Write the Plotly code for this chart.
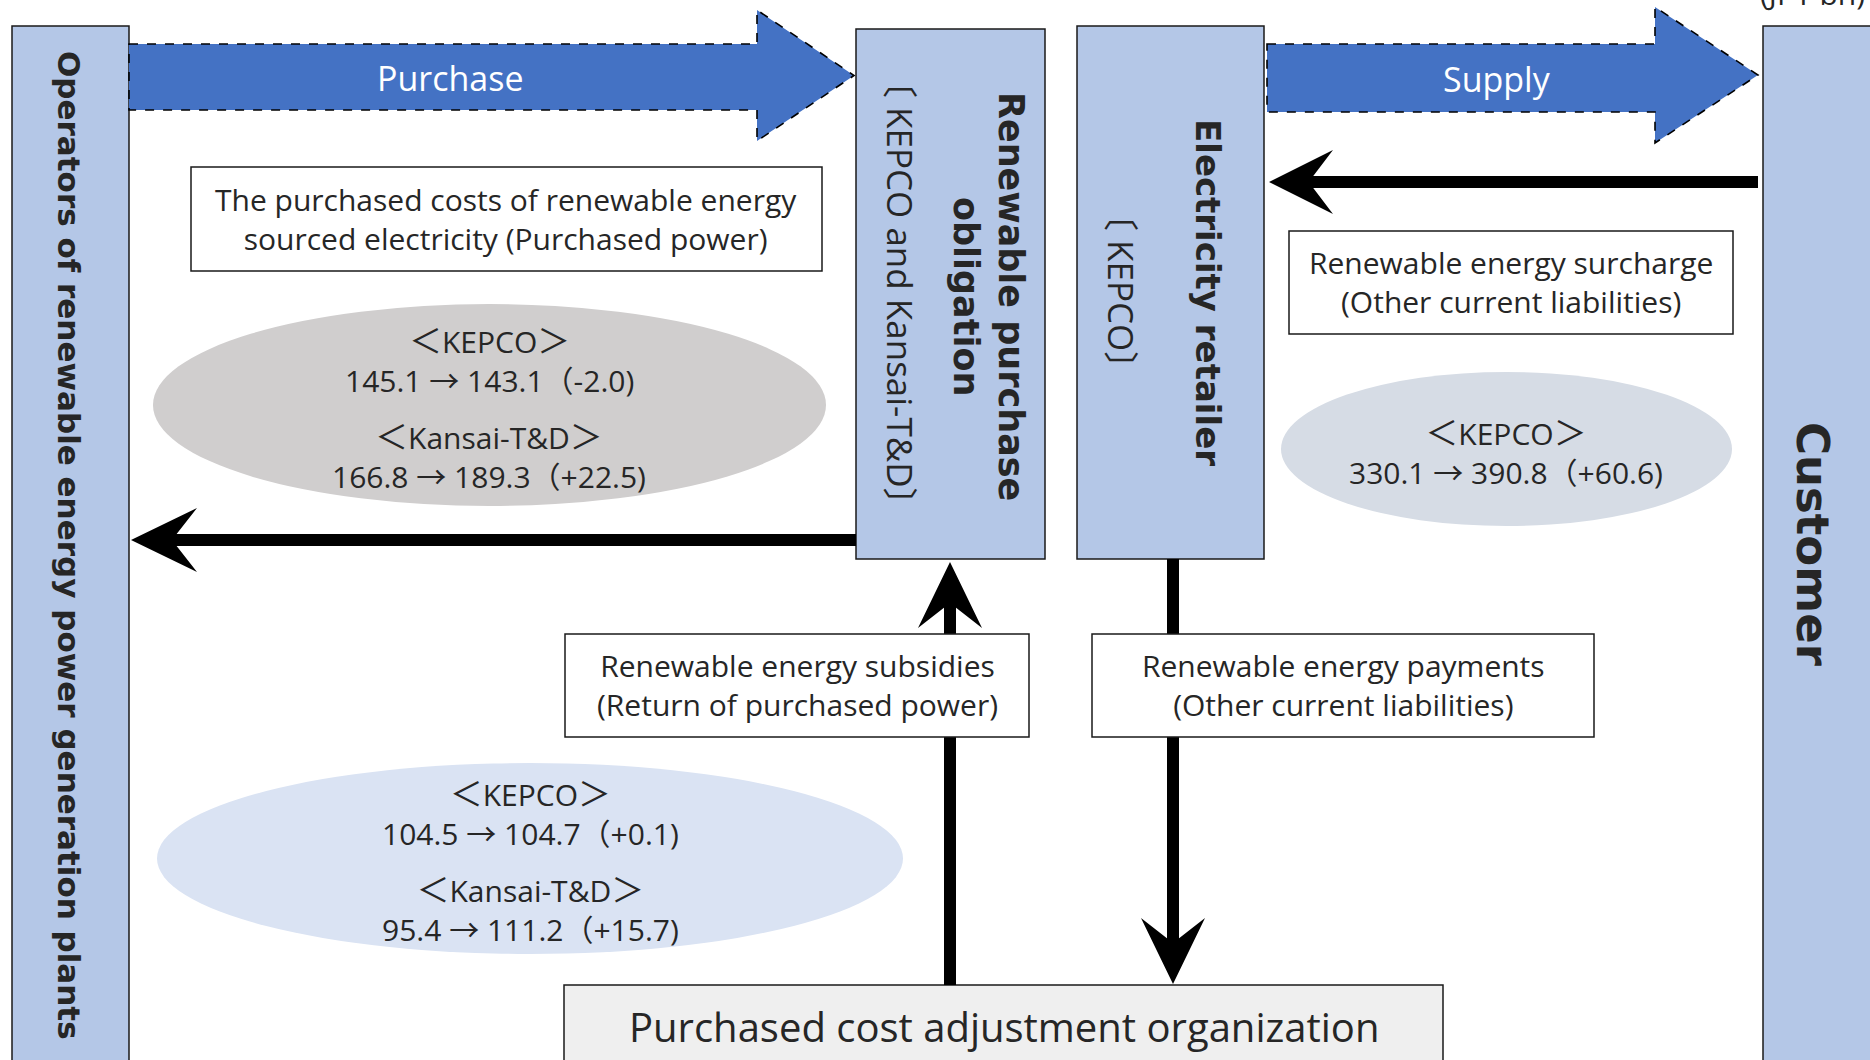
import plotly.graph_objects as go

# ---------------- data (texts & values) ----------------
unit_label = "(JPY bn)"
entity_labels = {
    "operators": "Operators of renewable energy power generation plants",
    "obligation": "Renewable purchase<br>obligation",
    "obligation_sub": "〔 KEPCO and Kansai-T&D〕",
    "retailer": "Electricity retailer",
    "retailer_sub": "〔 KEPCO〕",
    "customer": "Customer",
    "organization": "Purchased cost adjustment organization",
}
flow_labels = ["Purchase", "Supply"]
item_labels = {
    "purchased": "The purchased costs of renewable energy<br>sourced electricity (Purchased power)",
    "surcharge": "Renewable energy surcharge<br>(Other current liabilities)",
    "subsidies": "Renewable energy subsidies<br>(Return of purchased power)",
    "payments": "Renewable energy payments<br>(Other current liabilities)",
}
companies = ["KEPCO", "Kansai-T&D"]
purchased_prev = [145.1, 166.8]
purchased_curr = [143.1, 189.3]
purchased_chg = ["-2.0", "+22.5"]
surcharge_prev = [330.1]
surcharge_curr = [390.8]
surcharge_chg = ["+60.6"]
subsidies_prev = [104.5, 95.4]
subsidies_curr = [104.7, 111.2]
subsidies_chg = ["+0.1", "+15.7"]

# ---------------- styles ----------------
BOX_FILL = "#B4C7E7"
ARROW_FILL = "#4472C4"
TXT = "#262626"
EDGE = "#1a1a1a"
FONT = "Open Sans, Noto Sans CJK JP"
BOLD = "DejaVu Sans"

fig = go.Figure()
fig.add_trace(go.Scatter(x=[0, 1870], y=[0, 1060], mode="markers",
                         marker=dict(opacity=0), hoverinfo="skip"))

shapes = []
ann = []


def rect(x0, y0, x1, y1, fill, lw=1.5):
    shapes.append(dict(type="rect", x0=x0, y0=y0, x1=x1, y1=y1,
                       fillcolor=fill, line=dict(color=EDGE, width=lw)))


def ellipse(x0, y0, x1, y1, fill):
    shapes.append(dict(type="circle", x0=x0, y0=y0, x1=x1, y1=y1,
                       fillcolor=fill, line=dict(width=0)))


def text(x, y, s, size, color=TXT, family=FONT, angle=0, bold=False, yshift=0):
    if bold:
        s = "<b>" + s + "</b>"
    ann.append(dict(x=x, y=y, text=s, showarrow=False, textangle=angle,
                    xanchor="center", yanchor="middle", yshift=yshift,
                    font=dict(size=size, color=color, family=family)))


def block_arrow(x0, xh, xt, yb0, yb1, yh0, yh1):
    ym = (yh0 + yh1) / 2
    p = (f"M{x0},{yb0} L{xh},{yb0} L{xh},{yh0} L{xt},{ym} L{xh},{yh1} "
         f"L{xh},{yb1} L{x0},{yb1} Z")
    shapes.append(dict(type="path", path=p, fillcolor=ARROW_FILL,
                       line=dict(color="black", width=1.6, dash="dash")))


def head(tx, ty, direction, L=66, Wd=32, notch=0.62):
    # stealth style arrow head
    if direction == "left":
        pts = [(tx, ty), (tx + L, ty - Wd), (tx + L * notch, ty), (tx + L, ty + Wd)]
    elif direction == "right":
        pts = [(tx, ty), (tx - L, ty - Wd), (tx - L * notch, ty), (tx - L, ty + Wd)]
    elif direction == "up":
        pts = [(tx, ty), (tx - Wd, ty + L), (tx, ty + L * notch), (tx + Wd, ty + L)]
    else:
        pts = [(tx, ty), (tx - Wd, ty - L), (tx, ty - L * notch), (tx + Wd, ty - L)]
    p = "M" + " L".join(f"{a},{b}" for a, b in pts) + " Z"
    shapes.append(dict(type="path", path=p, fillcolor="black", line=dict(width=0)))


def thick_line(x0, y0, x1, y1, w=12):
    shapes.append(dict(type="line", x0=x0, y0=y0, x1=x1, y1=y1,
                       line=dict(color="black", width=w)))


# ---------------- main boxes ----------------
rect(12, 26, 129, 1075, BOX_FILL)
rect(856, 29, 1045, 559, BOX_FILL)
rect(1077, 26, 1264, 559, BOX_FILL)
rect(1763, 26, 1885, 1075, BOX_FILL)
rect(564, 985, 1443, 1075, "#EFEFEF")

# block arrows
block_arrow(129, 757, 854, 44, 110, 10, 141)
block_arrow(1267, 1655, 1758, 44, 112, 7, 143)

# ellipses
ellipse(153, 304, 826, 506, "#D0CECE")
ellipse(1281, 372, 1732, 526, "#D6DCE5")
ellipse(157, 763, 903, 954, "#DAE3F3")

# thin arrows
thick_line(856, 540, 170, 540)
head(131, 540, "left")
thick_line(1758, 182, 1300, 182)
head(1269, 182, "left", L=64)
thick_line(1173, 559, 1173, 950)
head(1173, 984, "down")
thick_line(950, 985, 950, 600)
head(950, 562, "up")

# label boxes
rect(191, 167, 822, 271, "white")
rect(1289, 231, 1733, 334, "white")
rect(565, 634, 1029, 737, "white")
rect(1092, 634, 1594, 737, "white")

# ---------------- texts ----------------
text(1812, 2, unit_label, 30, yshift=9)
text(450, 78, flow_labels[0], 34, color="white")
text(1497, 79, flow_labels[1], 34, color="white")

text(69, 545, entity_labels["operators"], 31, family=BOLD, angle=90, bold=True)
text(988, 296, entity_labels["obligation"], 35, family=BOLD, angle=90, bold=True)
text(901, 293, entity_labels["obligation_sub"], 35, angle=90)
text(1208, 292, entity_labels["retailer"], 34, family=BOLD, angle=90, bold=True)
text(1122, 291, entity_labels["retailer_sub"], 35, angle=90)
text(1813, 544, entity_labels["customer"], 45, family=BOLD, angle=90, bold=True)
text(1004, 1026, entity_labels["organization"], 40)

text(506, 219, item_labels["purchased"], 30)
text(1511, 282, item_labels["surcharge"], 30)
text(797, 685, item_labels["subsidies"], 30)
text(1343, 685, item_labels["payments"], 30)


def block(name, prev, curr, chg):
    tag = ('<span style="font-size:33px">＜</span>' + name +
           '<span style="font-size:33px">＞</span>')
    return tag + "<br>" + f"{prev:.1f} → {curr:.1f}（{chg})"


# purchased power (gray ellipse)
text(489, 359, block(companies[0], purchased_prev[0], purchased_curr[0], purchased_chg[0]), 30)
text(489, 455, block(companies[1], purchased_prev[1], purchased_curr[1], purchased_chg[1]), 30)

# surcharge (right ellipse)
text(1506, 451, block(companies[0], surcharge_prev[0], surcharge_curr[0], surcharge_chg[0]), 30)

# subsidies (blue ellipse)
text(530, 812, block(companies[0], subsidies_prev[0], subsidies_curr[0], subsidies_chg[0]), 30)
text(530, 908, block(companies[1], subsidies_prev[1], subsidies_curr[1], subsidies_chg[1]), 30)

fig.update_layout(
    width=1870, height=1060,
    margin=dict(l=0, r=0, t=0, b=0),
    paper_bgcolor="white", plot_bgcolor="white",
    xaxis=dict(range=[0, 1870], visible=False, fixedrange=True),
    yaxis=dict(range=[1060, 0], visible=False, fixedrange=True),
    shapes=shapes, annotations=ann, showlegend=False,
)

fig.write_html("out.html", config={"displayModeBar": False},
               post_script="document.body.style.margin='0';")
